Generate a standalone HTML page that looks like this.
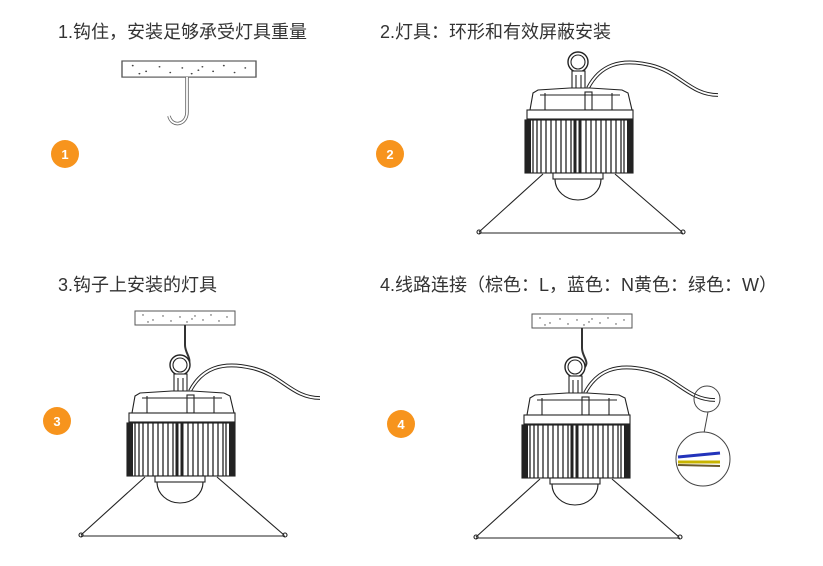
<!DOCTYPE html>
<html><head><meta charset="utf-8"><style>
html,body{margin:0;padding:0;background:#fff;}
svg{display:block;}
text{font-family:"Liberation Sans","Noto Sans CJK SC",sans-serif;fill:#333;}
</style></head><body>
<svg width="823" height="566" viewBox="0 0 823 566" xmlns="http://www.w3.org/2000/svg">
<defs>
<g id="plate">
  <rect x="0" y="0" width="100" height="14" fill="#fff" stroke="#555" stroke-width="1"/>
  <g fill="#444"><circle cx="8" cy="4" r=".7"/><circle cx="18" cy="9" r=".7"/><circle cx="28" cy="5" r=".7"/><circle cx="36" cy="10" r=".7"/><circle cx="45" cy="6" r=".7"/><circle cx="52" cy="11" r=".7"/><circle cx="60" cy="5" r=".7"/><circle cx="68" cy="9" r=".7"/><circle cx="76" cy="4" r=".7"/><circle cx="84" cy="10" r=".7"/><circle cx="92" cy="6" r=".7"/><circle cx="13" cy="11" r=".7"/><circle cx="57" cy="8" r=".7"/></g>
</g>
<g id="lamp" fill="none" stroke="#222" stroke-width="1.1">
  <circle cx="578" cy="62" r="10" fill="#fff" stroke-width="1.4"/>
  <circle cx="578" cy="62" r="7"/>
  <rect x="572" y="71" width="13" height="22" fill="#fff"/>
  <line x1="576" y1="75" x2="576" y2="93"/><line x1="581" y1="75" x2="581" y2="93"/>
  <path d="M588 88 C600 65 620 58 650 65 C680 72 690 95 718 95" stroke-width="3.8" stroke="#222"/>
  <path d="M588 88 C600 65 620 58 650 65 C680 72 690 95 718 95" stroke-width="1.8" stroke="#fff"/>
  <path d="M533 93 L538 90 L570 88 L590 88 L622 90 L628 93 L632 110 L530 110 Z" fill="#fff"/>
  <line x1="540" y1="95" x2="620" y2="95"/>
  <line x1="545" y1="110" x2="545" y2="93"/><line x1="612" y1="110" x2="612" y2="93"/>
  <rect x="585" y="92" width="7" height="18"/>
  <rect x="527" y="110" width="106" height="9" fill="#fff"/>
  <path d="M560 119 L565 123 L592 123 L597 119"/>
  <rect x="525" y="120" width="108" height="53" fill="#fff"/>
  <rect x="525" y="120" width="6" height="53" fill="#222" stroke="none"/>
  <rect x="627" y="120" width="6" height="53" fill="#222" stroke="none"/>
  <g stroke="#222" stroke-width="1.3">
    <line x1="533" y1="120" x2="533" y2="173"/><line x1="537" y1="120" x2="537" y2="173"/><line x1="541" y1="120" x2="541" y2="173"/><line x1="546" y1="120" x2="546" y2="173"/><line x1="551" y1="120" x2="551" y2="173"/><line x1="556" y1="120" x2="556" y2="173"/><line x1="561" y1="120" x2="561" y2="173"/><line x1="566" y1="120" x2="566" y2="173"/><line x1="571" y1="120" x2="571" y2="173"/><line x1="575" y1="120" x2="575" y2="173" stroke-width="3"/><line x1="580" y1="120" x2="580" y2="173" stroke-width="3"/><line x1="586" y1="120" x2="586" y2="173"/><line x1="591" y1="120" x2="591" y2="173"/><line x1="596" y1="120" x2="596" y2="173"/><line x1="601" y1="120" x2="601" y2="173"/><line x1="606" y1="120" x2="606" y2="173"/><line x1="611" y1="120" x2="611" y2="173"/><line x1="616" y1="120" x2="616" y2="173"/><line x1="621" y1="120" x2="621" y2="173"/><line x1="624" y1="120" x2="624" y2="173"/>
  </g>
  <rect x="553" y="173" width="50" height="6" fill="#fff"/>
  <path d="M555 179 A23 21 0 0 0 601 179"/>
  <line x1="543" y1="174" x2="479" y2="232"/>
  <line x1="615" y1="174" x2="682" y2="232"/>
  <line x1="479" y1="233" x2="683" y2="233"/>
  <circle cx="479" cy="232" r="2"/><circle cx="683" cy="232" r="2"/>
</g>
</defs>

<text x="58" y="38" font-size="18">1.钩住，安装足够承受灯具重量</text>
<text x="380" y="38" font-size="18">2.灯具：环形和有效屏蔽安装</text>
<text x="58" y="291" font-size="18">3.钩子上安装的灯具</text>
<text x="380" y="291" font-size="18">4.线路连接（棕色：L，蓝色：N黄色：绿色：W）</text>

<!-- panel 1 -->
<g transform="translate(122,61) scale(1.34,1.15)"><use href="#plate"/></g>
<path d="M187 77 L187 112 C187 125 172 128 169 116" fill="none" stroke="#666" stroke-width="3.5"/>
<path d="M187 77 L187 112 C187 125 172 128 169 116" fill="none" stroke="#fff" stroke-width="1.8"/>

<!-- panel 2 -->
<use href="#lamp"/>

<!-- panel 3 -->
<g transform="translate(135,311)"><use href="#plate"/></g>
<path d="M185 325 L185 345 C185 355 195 360 185 368" fill="none" stroke="#333" stroke-width="2"/>
<use href="#lamp" transform="translate(-398,303)"/>

<!-- panel 4 -->
<g transform="translate(532,314)"><use href="#plate"/></g>
<path d="M582 328 L582 348 C582 358 592 362 582 370" fill="none" stroke="#333" stroke-width="2"/>
<use href="#lamp" transform="translate(-3,305)"/>
<circle cx="707" cy="399" r="13" fill="none" stroke="#444"/>
<line x1="708" y1="412" x2="704" y2="433" stroke="#444"/>
<circle cx="703" cy="459" r="27" fill="#fff" stroke="#444"/>
<path d="M678 457 L720 453" stroke="#2233bb" stroke-width="3"/>
<path d="M678 462 L720 462" stroke="#c8b400" stroke-width="3"/>
<path d="M678 465 L720 466" stroke="#6b5a2a" stroke-width="2"/>

<!-- numbered circles -->
<g font-size="13" font-weight="bold" text-anchor="middle">
<circle cx="65" cy="154" r="14" fill="#f7941d"/><text x="65" y="159" style="fill:#fff">1</text>
<circle cx="390" cy="154" r="14" fill="#f7941d"/><text x="390" y="159" style="fill:#fff">2</text>
<circle cx="57" cy="421" r="14" fill="#f7941d"/><text x="57" y="426" style="fill:#fff">3</text>
<circle cx="401" cy="424" r="14" fill="#f7941d"/><text x="401" y="429" style="fill:#fff">4</text>
</g>
</svg>
</body></html>
